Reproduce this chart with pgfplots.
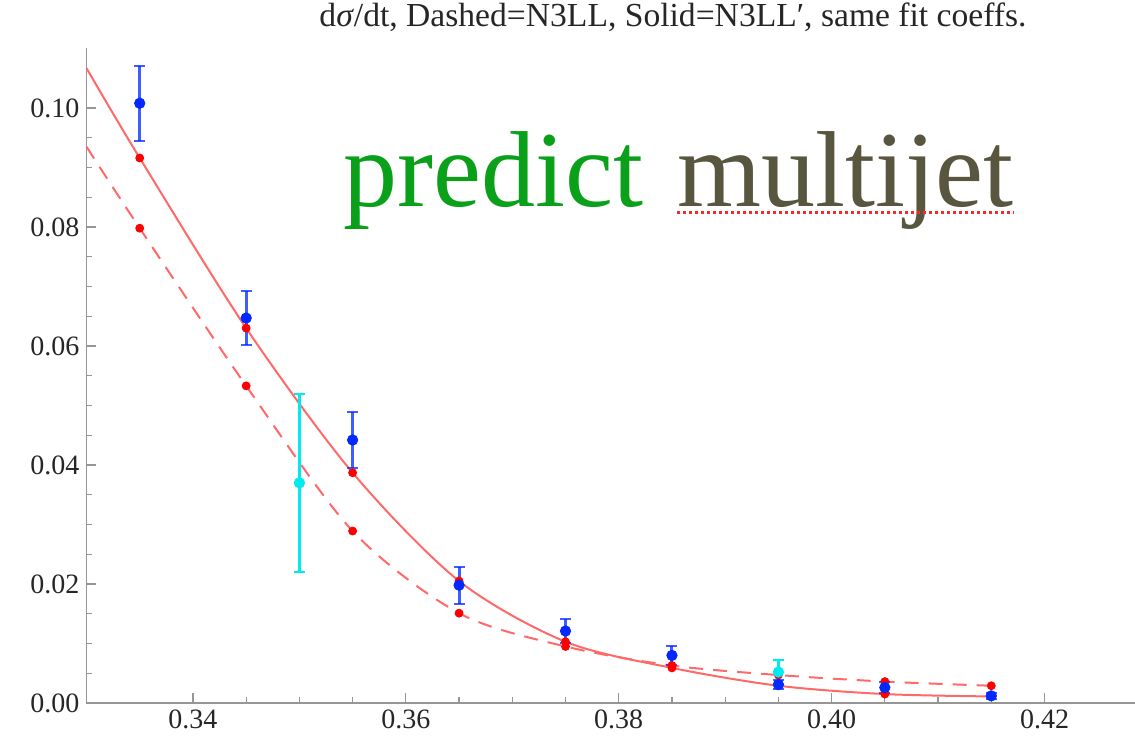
\documentclass[border=0pt]{standalone}
\usepackage{fontspec}
\setmainfont{Liberation Serif}
\usepackage{pgfplots}
\pgfplotsset{compat=1.18}

\definecolor{ptred}{RGB}{255,0,0}
\definecolor{curvered}{RGB}{255,105,105}
\definecolor{datablue}{RGB}{0,40,255}
\definecolor{datacyan}{RGB}{0,235,240}
\definecolor{predgreen}{RGB}{10,160,25}
\definecolor{olivetext}{RGB}{88,86,62}
\definecolor{axisgray}{RGB}{150,150,150}

\begin{document}
\begin{tikzpicture}
\useasboundingbox (-43.25pt,-18.5pt) rectangle (524.25pt,351.5pt);
\begin{axis}[
  at={(0,0)}, anchor=south west,
  scale only axis, width=524.25pt, height=327.25pt,
  xmin=0.33, xmax=0.4285, ymin=0, ymax=0.11,
  axis lines=left,
  axis line style={-, draw=axisgray, line width=0.75pt},
  tick align=inside,
  major tick length=5pt, minor tick length=3pt,
  tick style={axisgray, line width=0.6pt},
  xtick={0.34,0.36,0.38,0.40,0.42},
  ytick={0,0.02,0.04,0.06,0.08,0.10},
  minor tick num=3,
  scaled ticks=false,
  /pgf/number format/assume math mode=true,
  xticklabel style={/pgf/number format/.cd, fixed, fixed zerofill, precision=2},
  yticklabel style={/pgf/number format/.cd, fixed, fixed zerofill, precision=2},
  tick label style={font=\rmfamily\fontsize{14}{16}\selectfont, text=black!85},
  clip=false,
]

% N3LL' fit (solid) and N3LL fit (dashed)
\addplot[curvered, line width=1pt, smooth] coordinates {
  (0.330,0.1067) (0.335,0.0916) (0.345,0.0630) (0.355,0.0387)
  (0.365,0.0205) (0.375,0.0103) (0.385,0.0059) (0.395,0.0029)
  (0.405,0.0015) (0.415,0.0011)
};
\addplot[curvered, line width=1pt, smooth, dash pattern=on 7pt off 5pt] coordinates {
  (0.330,0.0935) (0.335,0.0798) (0.345,0.0533) (0.355,0.0289)
  (0.365,0.0151) (0.375,0.0095) (0.385,0.0063) (0.395,0.0047)
  (0.405,0.0036) (0.415,0.0029)
};

% theory points at bin centres
\addplot[only marks, mark=*, mark size=2pt, ptred] coordinates {
  (0.335,0.0916) (0.345,0.0630) (0.355,0.0387) (0.365,0.0205)
  (0.375,0.0103) (0.385,0.0059) (0.395,0.0029) (0.405,0.0015)
  (0.415,0.0011)
};
\addplot[only marks, mark=*, mark size=2pt, ptred] coordinates {
  (0.335,0.0798) (0.345,0.0533) (0.355,0.0289) (0.365,0.0151)
  (0.375,0.0095) (0.385,0.0063) (0.395,0.0047) (0.405,0.0036)
  (0.415,0.0029)
};

% data with errors
\addplot[only marks, mark=*, mark size=2.6pt, datacyan,
  error bars/.cd, y dir=both, y explicit,
  error bar style={line width=1.4pt, datacyan},
  error mark options={rotate=90, mark size=2.75pt, line width=1pt, datacyan}]
  coordinates {
  (0.350,0.0370) +- (0,0.0150)
  (0.395,0.0052) +- (0,0.0020)
};
\addplot[only marks, mark=*, mark size=2.6pt, datablue,
  error bars/.cd, y dir=both, y explicit,
  error bar style={line width=1.5pt, datablue, opacity=0.75},
  error mark options={rotate=90, mark size=2.75pt, line width=1pt, datablue}]
  coordinates {
  (0.335,0.1008) +- (0,0.0063)
  (0.345,0.0647) +- (0,0.0045)
  (0.355,0.0442) +- (0,0.0047)
  (0.365,0.0198) +- (0,0.0031)
  (0.375,0.0121) +- (0,0.0020)
  (0.385,0.0080) +- (0,0.0016)
  (0.395,0.0031) +- (0,0.0008)
  (0.405,0.0026) +- (0,0.0010)
  (0.415,0.0012) +- (0,0.0005)
};

% heading
\node[font=\rmfamily\fontsize{16.8}{19}\selectfont, text=black!85] at (axis cs:0.3851,0.1152)
  {d\textit{σ}/dt, Dashed=N3LL, Solid=N3LL′, same fit coeffs.};

% overlay caption
\node[anchor=base west, inner sep=0pt, text=predgreen, font=\fontsize{54}{60}\selectfont]
  at (axis cs:0.3541,0.0834) {predict};
\node[anchor=base west, inner sep=0pt, text=olivetext, font=\fontsize{54}{60}\selectfont]
  (mj) at (axis cs:0.3855,0.0834) {multijet};
\draw[ptred!85, line width=1.5pt, dash pattern=on 1.5pt off 1.5pt]
  ([yshift=-3pt]mj.base west) -- ([yshift=-3pt]mj.base east);

\end{axis}
\end{tikzpicture}
\end{document}
